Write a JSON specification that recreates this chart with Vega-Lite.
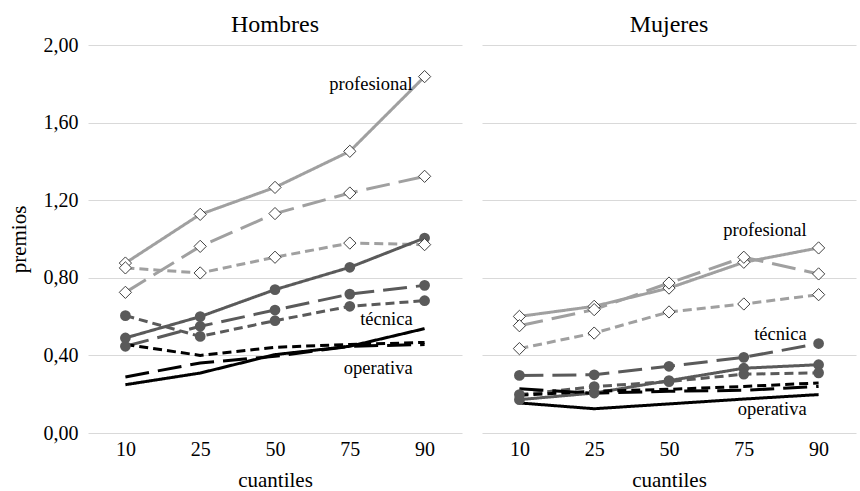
{
  "$schema": "https://vega.github.io/schema/vega-lite/v6.json",
  "padding": {"left": 8, "top": 13, "right": 2, "bottom": 0},
  "config": {
    "font": "'Liberation Serif', 'DejaVu Serif', serif",
    "view": {"stroke": null},
    "text": {"font": "'Liberation Serif', 'DejaVu Serif', serif"},
    "axis": {"labelFont": "'Liberation Serif', 'DejaVu Serif', serif", "titleFont": "'Liberation Serif', 'DejaVu Serif', serif"},
    "header": {"labelFont": "'Liberation Serif', 'DejaVu Serif', serif"}
  },
  "data": {
    "values": [
      {"sexo": "Hombres", "categoria": "profesional", "serie": "1", "cuantil": 10, "premio": 0.876},
      {"sexo": "Hombres", "categoria": "profesional", "serie": "1", "cuantil": 25, "premio": 1.127},
      {"sexo": "Hombres", "categoria": "profesional", "serie": "1", "cuantil": 50, "premio": 1.266},
      {"sexo": "Hombres", "categoria": "profesional", "serie": "1", "cuantil": 75, "premio": 1.452},
      {"sexo": "Hombres", "categoria": "profesional", "serie": "1", "cuantil": 90, "premio": 1.837},
      {"sexo": "Hombres", "categoria": "profesional", "serie": "2", "cuantil": 10, "premio": 0.725},
      {"sexo": "Hombres", "categoria": "profesional", "serie": "2", "cuantil": 25, "premio": 0.962},
      {"sexo": "Hombres", "categoria": "profesional", "serie": "2", "cuantil": 50, "premio": 1.131},
      {"sexo": "Hombres", "categoria": "profesional", "serie": "2", "cuantil": 75, "premio": 1.237},
      {"sexo": "Hombres", "categoria": "profesional", "serie": "2", "cuantil": 90, "premio": 1.323},
      {"sexo": "Hombres", "categoria": "profesional", "serie": "3", "cuantil": 10, "premio": 0.851},
      {"sexo": "Hombres", "categoria": "profesional", "serie": "3", "cuantil": 25, "premio": 0.825},
      {"sexo": "Hombres", "categoria": "profesional", "serie": "3", "cuantil": 50, "premio": 0.906},
      {"sexo": "Hombres", "categoria": "profesional", "serie": "3", "cuantil": 75, "premio": 0.979},
      {"sexo": "Hombres", "categoria": "profesional", "serie": "3", "cuantil": 90, "premio": 0.971},
      {"sexo": "Hombres", "categoria": "técnica", "serie": "1", "cuantil": 10, "premio": 0.49},
      {"sexo": "Hombres", "categoria": "técnica", "serie": "1", "cuantil": 25, "premio": 0.6},
      {"sexo": "Hombres", "categoria": "técnica", "serie": "1", "cuantil": 50, "premio": 0.739},
      {"sexo": "Hombres", "categoria": "técnica", "serie": "1", "cuantil": 75, "premio": 0.854},
      {"sexo": "Hombres", "categoria": "técnica", "serie": "1", "cuantil": 90, "premio": 1.005},
      {"sexo": "Hombres", "categoria": "técnica", "serie": "2", "cuantil": 10, "premio": 0.447},
      {"sexo": "Hombres", "categoria": "técnica", "serie": "2", "cuantil": 25, "premio": 0.55},
      {"sexo": "Hombres", "categoria": "técnica", "serie": "2", "cuantil": 50, "premio": 0.634},
      {"sexo": "Hombres", "categoria": "técnica", "serie": "2", "cuantil": 75, "premio": 0.716},
      {"sexo": "Hombres", "categoria": "técnica", "serie": "2", "cuantil": 90, "premio": 0.761},
      {"sexo": "Hombres", "categoria": "técnica", "serie": "3", "cuantil": 10, "premio": 0.605},
      {"sexo": "Hombres", "categoria": "técnica", "serie": "3", "cuantil": 25, "premio": 0.498},
      {"sexo": "Hombres", "categoria": "técnica", "serie": "3", "cuantil": 50, "premio": 0.579},
      {"sexo": "Hombres", "categoria": "técnica", "serie": "3", "cuantil": 75, "premio": 0.653},
      {"sexo": "Hombres", "categoria": "técnica", "serie": "3", "cuantil": 90, "premio": 0.682},
      {"sexo": "Hombres", "categoria": "operativa", "serie": "1", "cuantil": 10, "premio": 0.249},
      {"sexo": "Hombres", "categoria": "operativa", "serie": "1", "cuantil": 25, "premio": 0.309},
      {"sexo": "Hombres", "categoria": "operativa", "serie": "1", "cuantil": 50, "premio": 0.404},
      {"sexo": "Hombres", "categoria": "operativa", "serie": "1", "cuantil": 75, "premio": 0.447},
      {"sexo": "Hombres", "categoria": "operativa", "serie": "1", "cuantil": 90, "premio": 0.538},
      {"sexo": "Hombres", "categoria": "operativa", "serie": "2", "cuantil": 10, "premio": 0.289},
      {"sexo": "Hombres", "categoria": "operativa", "serie": "2", "cuantil": 25, "premio": 0.361},
      {"sexo": "Hombres", "categoria": "operativa", "serie": "2", "cuantil": 50, "premio": 0.395},
      {"sexo": "Hombres", "categoria": "operativa", "serie": "2", "cuantil": 75, "premio": 0.447},
      {"sexo": "Hombres", "categoria": "operativa", "serie": "2", "cuantil": 90, "premio": 0.456},
      {"sexo": "Hombres", "categoria": "operativa", "serie": "3", "cuantil": 10, "premio": 0.456},
      {"sexo": "Hombres", "categoria": "operativa", "serie": "3", "cuantil": 25, "premio": 0.4},
      {"sexo": "Hombres", "categoria": "operativa", "serie": "3", "cuantil": 50, "premio": 0.442},
      {"sexo": "Hombres", "categoria": "operativa", "serie": "3", "cuantil": 75, "premio": 0.456},
      {"sexo": "Hombres", "categoria": "operativa", "serie": "3", "cuantil": 90, "premio": 0.467},
      {"sexo": "Mujeres", "categoria": "profesional", "serie": "1", "cuantil": 10, "premio": 0.601},
      {"sexo": "Mujeres", "categoria": "profesional", "serie": "1", "cuantil": 25, "premio": 0.653},
      {"sexo": "Mujeres", "categoria": "profesional", "serie": "1", "cuantil": 50, "premio": 0.747},
      {"sexo": "Mujeres", "categoria": "profesional", "serie": "1", "cuantil": 75, "premio": 0.88},
      {"sexo": "Mujeres", "categoria": "profesional", "serie": "1", "cuantil": 90, "premio": 0.954},
      {"sexo": "Mujeres", "categoria": "profesional", "serie": "2", "cuantil": 10, "premio": 0.553},
      {"sexo": "Mujeres", "categoria": "profesional", "serie": "2", "cuantil": 25, "premio": 0.636},
      {"sexo": "Mujeres", "categoria": "profesional", "serie": "2", "cuantil": 50, "premio": 0.773},
      {"sexo": "Mujeres", "categoria": "profesional", "serie": "2", "cuantil": 75, "premio": 0.906},
      {"sexo": "Mujeres", "categoria": "profesional", "serie": "2", "cuantil": 90, "premio": 0.82},
      {"sexo": "Mujeres", "categoria": "profesional", "serie": "3", "cuantil": 10, "premio": 0.435},
      {"sexo": "Mujeres", "categoria": "profesional", "serie": "3", "cuantil": 25, "premio": 0.515},
      {"sexo": "Mujeres", "categoria": "profesional", "serie": "3", "cuantil": 50, "premio": 0.624},
      {"sexo": "Mujeres", "categoria": "profesional", "serie": "3", "cuantil": 75, "premio": 0.665},
      {"sexo": "Mujeres", "categoria": "profesional", "serie": "3", "cuantil": 90, "premio": 0.713},
      {"sexo": "Mujeres", "categoria": "técnica", "serie": "1", "cuantil": 10, "premio": 0.172},
      {"sexo": "Mujeres", "categoria": "técnica", "serie": "1", "cuantil": 25, "premio": 0.206},
      {"sexo": "Mujeres", "categoria": "técnica", "serie": "1", "cuantil": 50, "premio": 0.27},
      {"sexo": "Mujeres", "categoria": "técnica", "serie": "1", "cuantil": 75, "premio": 0.334},
      {"sexo": "Mujeres", "categoria": "técnica", "serie": "1", "cuantil": 90, "premio": 0.352},
      {"sexo": "Mujeres", "categoria": "técnica", "serie": "2", "cuantil": 10, "premio": 0.297},
      {"sexo": "Mujeres", "categoria": "técnica", "serie": "2", "cuantil": 25, "premio": 0.3},
      {"sexo": "Mujeres", "categoria": "técnica", "serie": "2", "cuantil": 50, "premio": 0.344},
      {"sexo": "Mujeres", "categoria": "técnica", "serie": "2", "cuantil": 75, "premio": 0.39},
      {"sexo": "Mujeres", "categoria": "técnica", "serie": "2", "cuantil": 90, "premio": 0.461},
      {"sexo": "Mujeres", "categoria": "técnica", "serie": "3", "cuantil": 10, "premio": 0.198},
      {"sexo": "Mujeres", "categoria": "técnica", "serie": "3", "cuantil": 25, "premio": 0.239},
      {"sexo": "Mujeres", "categoria": "técnica", "serie": "3", "cuantil": 50, "premio": 0.265},
      {"sexo": "Mujeres", "categoria": "técnica", "serie": "3", "cuantil": 75, "premio": 0.303},
      {"sexo": "Mujeres", "categoria": "técnica", "serie": "3", "cuantil": 90, "premio": 0.31},
      {"sexo": "Mujeres", "categoria": "operativa", "serie": "1", "cuantil": 10, "premio": 0.155},
      {"sexo": "Mujeres", "categoria": "operativa", "serie": "1", "cuantil": 25, "premio": 0.125},
      {"sexo": "Mujeres", "categoria": "operativa", "serie": "1", "cuantil": 50, "premio": 0.15},
      {"sexo": "Mujeres", "categoria": "operativa", "serie": "1", "cuantil": 75, "premio": 0.175},
      {"sexo": "Mujeres", "categoria": "operativa", "serie": "1", "cuantil": 90, "premio": 0.198},
      {"sexo": "Mujeres", "categoria": "operativa", "serie": "2", "cuantil": 10, "premio": 0.228},
      {"sexo": "Mujeres", "categoria": "operativa", "serie": "2", "cuantil": 25, "premio": 0.205},
      {"sexo": "Mujeres", "categoria": "operativa", "serie": "2", "cuantil": 50, "premio": 0.215},
      {"sexo": "Mujeres", "categoria": "operativa", "serie": "2", "cuantil": 75, "premio": 0.22},
      {"sexo": "Mujeres", "categoria": "operativa", "serie": "2", "cuantil": 90, "premio": 0.24},
      {"sexo": "Mujeres", "categoria": "operativa", "serie": "3", "cuantil": 10, "premio": 0.195},
      {"sexo": "Mujeres", "categoria": "operativa", "serie": "3", "cuantil": 25, "premio": 0.215},
      {"sexo": "Mujeres", "categoria": "operativa", "serie": "3", "cuantil": 50, "premio": 0.225},
      {"sexo": "Mujeres", "categoria": "operativa", "serie": "3", "cuantil": 75, "premio": 0.24},
      {"sexo": "Mujeres", "categoria": "operativa", "serie": "3", "cuantil": 90, "premio": 0.258},
      {"sexo": "Hombres", "etiqueta": "profesional", "cuantil": 90, "premio": 1.8},
      {"sexo": "Hombres", "etiqueta": "técnica", "cuantil": 90, "premio": 0.59},
      {"sexo": "Hombres", "etiqueta": "operativa", "cuantil": 90, "premio": 0.335},
      {"sexo": "Mujeres", "etiqueta": "profesional", "cuantil": 90, "premio": 1.044},
      {"sexo": "Mujeres", "etiqueta": "técnica", "cuantil": 90, "premio": 0.509},
      {"sexo": "Mujeres", "etiqueta": "operativa", "cuantil": 90, "premio": 0.122}
    ]
  },
  "facet": {
    "column": {
      "field": "sexo",
      "type": "nominal",
      "sort": ["Hombres", "Mujeres"],
      "header": {"title": null, "labelFontSize": 24, "labelFont": "'Liberation Serif', 'DejaVu Serif', serif", "labelColor": "#000000", "labelPadding": 8}
    }
  },
  "spacing": 20,
  "spec": {
    "width": 374,
    "height": 388,
    "encoding": {
      "x": {
        "field": "cuantil",
        "type": "ordinal",
        "scale": {"padding": 0.5},
        "axis": {"title": "cuantiles", "titleFont": "'Liberation Serif', 'DejaVu Serif', serif", "labelFont": "'Liberation Serif', 'DejaVu Serif', serif", "titleFontSize": 21, "titleFontWeight": "normal", "titleColor": "#000000", "titlePadding": 10, "labelFontSize": 20, "labelColor": "#000000", "labelAngle": 0, "labelPadding": 6, "domain": false, "ticks": false, "grid": false}
      },
      "y": {
        "field": "premio",
        "type": "quantitative",
        "scale": {"domain": [0, 2]},
        "axis": {"title": "premios", "titleFont": "'Liberation Serif', 'DejaVu Serif', serif", "labelFont": "'Liberation Serif', 'DejaVu Serif', serif", "titleFontSize": 21, "titleFontWeight": "normal", "titleColor": "#000000", "titlePadding": 14, "labelFontSize": 20, "labelColor": "#000000", "labelPadding": 10, "values": [0, 0.4, 0.8, 1.2, 1.6, 2], "labelExpr": "replace(format(datum.value, '.2f'), '.', ',')", "domain": false, "ticks": false, "grid": true, "gridColor": "#d9d9d9", "gridWidth": 1}
      }
    },
    "layer": [
      {
        "transform": [{"filter": "datum.etiqueta == null"}],
        "mark": {"type": "line", "strokeWidth": 3},
        "encoding": {
          "color": {"field": "categoria", "type": "nominal", "scale": {"domain": ["profesional", "técnica", "operativa"], "range": ["#a0a0a0", "#5a5a5a", "#000000"]}, "legend": null},
          "strokeDash": {"field": "serie", "type": "nominal", "scale": {"domain": ["1", "2", "3"], "range": [[1, 0], [24, 9], [9, 5]]}, "legend": null}
        }
      },
      {
        "transform": [{"filter": "datum.categoria == 'técnica'"}],
        "mark": {"type": "circle", "size": 115, "color": "#5a5a5a", "opacity": 1},
        "encoding": {}
      },
      {
        "transform": [{"filter": "datum.categoria == 'profesional'"}],
        "mark": {"type": "point", "shape": "diamond", "size": 150, "filled": true, "fill": "#ffffff", "stroke": "#404040", "strokeWidth": 1, "opacity": 1},
        "encoding": {}
      },
      {
        "transform": [{"filter": "datum.etiqueta != null"}],
        "mark": {"type": "text", "align": "right", "baseline": "middle", "dx": -12, "fontSize": 18.5, "color": "#000000", "font": "'Liberation Serif', 'DejaVu Serif', serif"},
        "encoding": {"text": {"field": "etiqueta", "type": "nominal"}}
      }
    ]
  }
}
